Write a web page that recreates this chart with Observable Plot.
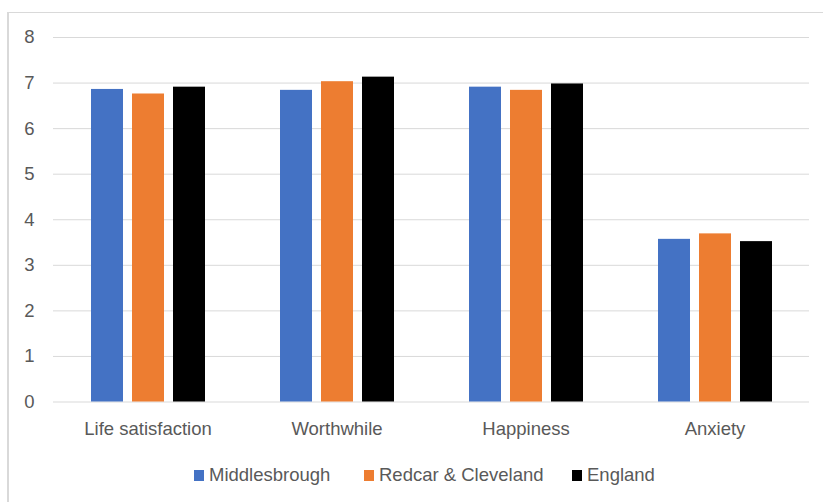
<!DOCTYPE html>
<html>
<head>
<meta charset="utf-8">
<script src="https://cdn.jsdelivr.net/npm/d3@7"></script>
<script src="https://cdn.jsdelivr.net/npm/@observablehq/plot@0.6"></script>
<style>
  html, body { margin: 0; padding: 0; background: #fff; }
  body { width: 823px; height: 502px; position: relative; overflow: hidden; font-family: "Liberation Sans", Arial, sans-serif; }
  #frame { position: absolute; left: 7px; top: 12px; width: 900px; height: 600px; border-left: 2px solid #d9d9d9; border-top: 1px solid #d9d9d9; }
  #chart { position: absolute; left: 0; top: 0; }
  #legend { position: absolute; left: 0; top: 464px; width: 823px; height: 24px; font-size: 18.5px; color: #595959; }
  #legend .item { position: absolute; top: 0; display: flex; align-items: center; white-space: nowrap; }
  #legend .sw { width: 10px; height: 11px; margin-right: 5px; }
</style>
</head>
<body>
<div id="frame"></div>
<div id="chart"></div>
<div id="legend"></div>
<script>
const categories = ["Life satisfaction", "Worthwhile", "Happiness", "Anxiety"];
const seriesNames = ["Middlesbrough", "Redcar & Cleveland", "England"];
const middlesbrough = [6.86, 6.84, 6.91, 3.57];
const redcar = [6.76, 7.03, 6.84, 3.69];
const england = [6.91, 7.13, 6.98, 3.52];
const colors = ["#4472C4", "#ED7D31", "#000000"];
const yTicks = [0, 1, 2, 3, 4, 5, 6, 7, 8];
const legendLeft = [194, 364, 572];

const seriesValues = [middlesbrough, redcar, england];
const data = [];
categories.forEach((c, i) => {
  seriesNames.forEach((s, j) => {
    data.push({category: c, series: s, value: seriesValues[j][i]});
  });
});

const plot = Plot.plot({
  width: 823,
  height: 445,
  marginTop: 37,
  marginBottom: 43.5,
  marginLeft: 52,
  marginRight: 14,
  style: {fontFamily: "'Liberation Sans', Arial, sans-serif", fontSize: "18.5px", color: "#595959", background: "transparent"},
  fx: {domain: categories, padding: 0, label: null},
  x: {domain: seriesNames, paddingInner: 0.22, paddingOuter: 0.864, axis: null},
  y: {domain: [0, 8], label: null},
  color: {domain: seriesNames, range: colors},
  marks: [
    Plot.gridY(yTicks, {stroke: "#d9d9d9", strokeOpacity: 1, strokeWidth: 1}),
    Plot.axisY(yTicks, {tickSize: 0, tickPadding: 19, fontSize: 18.5, fill: "#595959", label: null}),
    Plot.axisFx({anchor: "bottom", tickSize: 0, tickPadding: 20, fontSize: 18.5, fill: "#595959", label: null}),
    Plot.barY(data, {fx: "category", x: "series", y: "value", fill: "series"})
  ]
});
document.getElementById("chart").appendChild(plot);

const legend = document.getElementById("legend");
seriesNames.forEach((s, j) => {
  const item = document.createElement("div");
  item.className = "item";
  item.style.left = legendLeft[j] + "px";
  const sw = document.createElement("div");
  sw.className = "sw";
  sw.style.background = colors[j];
  const t = document.createElement("span");
  t.textContent = s;
  item.appendChild(sw);
  item.appendChild(t);
  legend.appendChild(item);
});
</script>
</body>
</html>
